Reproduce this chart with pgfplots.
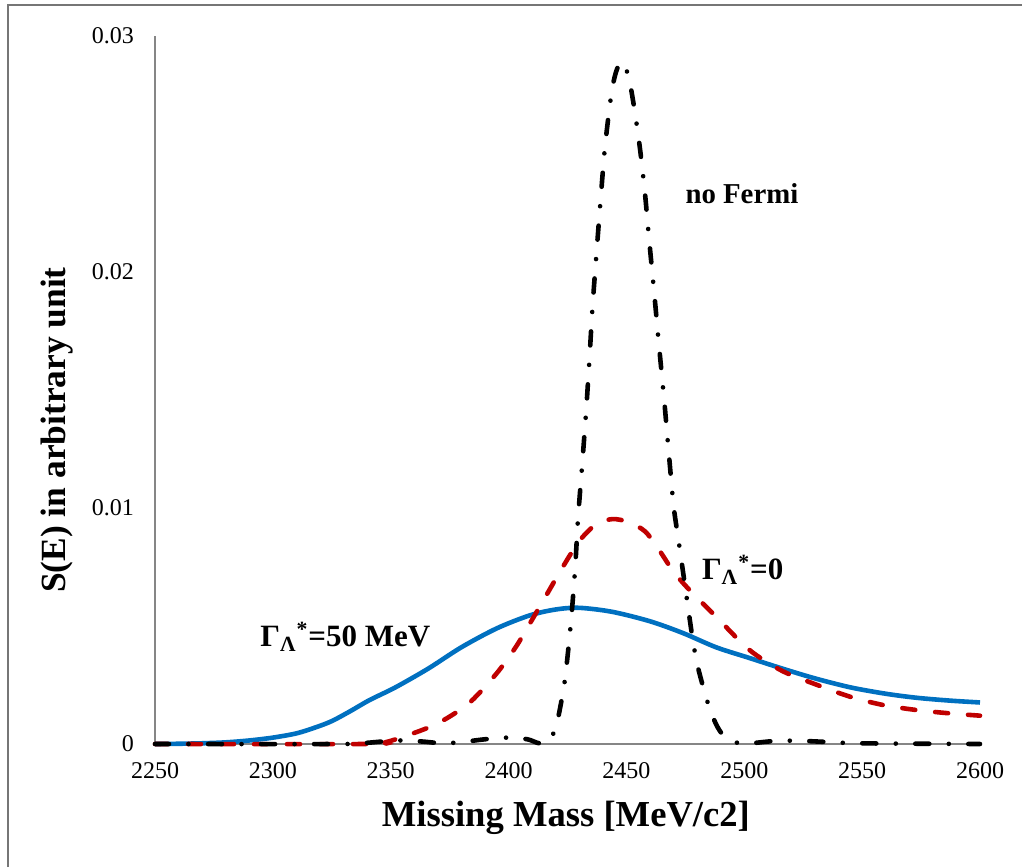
\documentclass[border=0pt]{standalone}
\usepackage{fontspec}
\setmainfont{Liberation Serif}
\usepackage{pgfplots}
\pgfplotsset{compat=1.18}

\definecolor{axisgray}{HTML}{868686}
\definecolor{frameclr}{HTML}{767676}
\definecolor{xlblue}{HTML}{0070C0}
\definecolor{xlred}{HTML}{C00000}

\begin{document}
\begin{tikzpicture}
  \useasboundingbox (0,0) rectangle (511pt,433.5pt);
  % chart frame (left and top edges)
  \draw[frameclr, line width=1pt] (4pt,0) -- (4pt,431pt) -- (511pt,431pt);

  \begin{axis}[
      at={(77.5pt,61.5pt)}, anchor=south west,
      scale only axis, width=412.5pt, height=354pt,
      xmin=2250, xmax=2600, ymin=0, ymax=0.03,
      axis lines*=left,
      axis line style={axisgray, line width=0.75pt},
      major tick length=0pt,
      clip=false,
      scaled x ticks=false, scaled y ticks=false,
      xtick={2250,2300,2350,2400,2450,2500,2550,2600},
      xticklabels={2250,2300,2350,2400,2450,2500,2550,2600},
      ytick={0,0.01,0.02,0.03},
      yticklabels={0,0.01,0.02,0.03},
      /pgf/number format/assume math mode=true,
      tick label style={font=\fontsize{12}{14}\selectfont},
      yticklabel style={xshift=-7pt},
      xticklabel style={yshift=-5.5pt},
      xlabel={Missing Mass [MeV/c2]},
      xlabel style={font=\fontsize{18.3}{22}\selectfont\bfseries,
        at={(rel axis cs:0.498,-0.1168)}, anchor=base},
      ylabel={S(E) in arbitrary unit},
      ylabel style={font=\fontsize{17.7}{21}\selectfont\bfseries,
        at={(rel axis cs:-0.1185,0.4435)}, anchor=center},
    ]

    % Gamma = 50 MeV
    \addplot[xlblue, line width=2.3pt, smooth] coordinates {
      (2250,0) (2260,0.00001) (2270,0.00003) (2280,0.00007) (2290,0.00015)
      (2300,0.00027) (2310,0.00045) (2318,0.0007) (2325,0.00097) (2333,0.0014)
      (2341,0.00186) (2352,0.0024) (2366,0.0032) (2380,0.0041) (2395,0.0049)
      (2409,0.00545) (2420,0.0057) (2430,0.00577) (2444,0.0056) (2460,0.0052)
      (2474,0.0047) (2488,0.0041) (2502,0.00365) (2516,0.0032) (2530,0.00278)
      (2545,0.0024) (2560,0.00213) (2573,0.00196) (2587,0.00184) (2600,0.00176)
    };

    % Gamma = 0
    \addplot[xlred, line width=2.3pt, smooth, line cap=round,
      dash pattern=on 6.5pt off 10pt] coordinates {
      (2250,0) (2340,0) (2348,0.00008) (2358,0.0004) (2366,0.0007)
      (2374,0.0011) (2384,0.0018) (2395,0.003) (2403,0.0041) (2409,0.0051)
      (2416,0.0063) (2423,0.0075) (2430,0.0086) (2437,0.0093) (2444,0.00953)
      (2451,0.0094) (2458,0.009) (2464,0.0082) (2470,0.0073) (2477,0.0065)
      (2488,0.0054) (2502,0.004) (2516,0.0031) (2531,0.0025) (2545,0.002)
      (2559,0.00165) (2573,0.00144) (2587,0.0013) (2600,0.0012)
    };

    % no Fermi motion
    \addplot[black, line width=2.3pt, smooth, line cap=round,
      dash pattern=on 7pt off 9.75pt on 0.01pt off 9.75pt] coordinates {
      (2250,0) (2330,0) (2340,0.00005) (2348,0.00012) (2356,0.00015)
      (2364,0.0001) (2372,0.00003) (2380,0.00008) (2390,0.0002) (2400,0.00027)
      (2408,0.0002) (2413,0.00003) (2417,0.0001) (2420,0.0007) (2422,0.0016)
      (2424,0.0028) (2426.4,0.0051) (2428.2,0.0074) (2429.5,0.0096)
      (2431.2,0.0118) (2432.9,0.0141) (2434.3,0.0163) (2435.6,0.0185)
      (2437.3,0.0208) (2439,0.023) (2440.9,0.0253) (2443.7,0.0276)
      (2446,0.0286) (2448.5,0.0289) (2451.5,0.028) (2455,0.0258)
      (2457.6,0.0236) (2459.7,0.0213) (2461.8,0.0191) (2463.9,0.0168)
      (2466,0.0146) (2468,0.0123) (2470,0.0101) (2472,0.0087) (2475,0.0066)
      (2478,0.0045) (2480,0.0034) (2482.6,0.0024) (2486,0.0013) (2490,0.0005)
      (2495,0.0001) (2502,0.00003) (2512,0.00012) (2522,0.00014) (2532,0.0001)
      (2545,0.00004) (2560,0.00002) (2600,0)
    };

    \node[anchor=base west, inner sep=0pt, font=\fontsize{14.4}{17}\selectfont\bfseries]
      at (axis cs:2474.9,0.02292) {no Fermi};
    \node[anchor=base west, inner sep=0pt, font=\fontsize{15.5}{18}\selectfont\bfseries]
      at (axis cs:2481.9,0.00695) {Γ\textsubscript{Λ}\textsuperscript{*}=0};
    \node[anchor=base west, inner sep=0pt, font=\fontsize{15.5}{18}\selectfont\bfseries]
      at (axis cs:2294.5,0.00412) {Γ\textsubscript{Λ}\textsuperscript{*}=50 MeV};
  \end{axis}
\end{tikzpicture}
\end{document}
